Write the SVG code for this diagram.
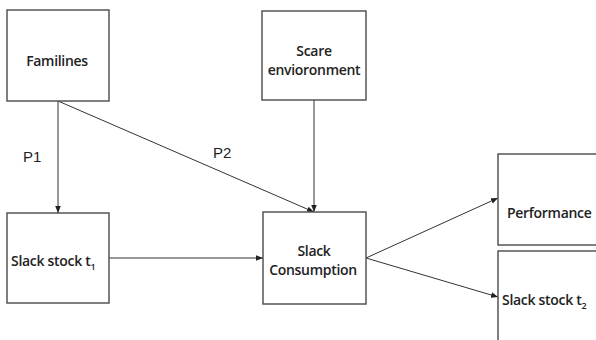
<svg xmlns="http://www.w3.org/2000/svg" width="596" height="340" viewBox="0 0 596 340">
<defs>
<marker id="arr" viewBox="0 0 10 10" refX="10" refY="5" markerWidth="7" markerHeight="7" orient="auto" markerUnits="userSpaceOnUse">
<path d="M0,1 L10,5 L0,9 z" fill="#222"/>
</marker>
</defs>
<style>
.box{fill:#fff;stroke:#555;stroke-width:1.5}
.lbl{font-family:"Open Sans","DejaVu Sans",sans-serif;font-size:14px;font-weight:600;letter-spacing:-0.3px;fill:#222;text-anchor:middle}
.lbl2{font-family:"Open Sans","DejaVu Sans",sans-serif;font-size:14px;font-weight:600;letter-spacing:-0.3px;fill:#222}
.sub{font-size:9px}
.edge{fill:none;stroke:#333;stroke-width:1}
.p{font-family:"Liberation Sans",Arial,sans-serif;font-size:15px;fill:#222}
</style>
<g id="connectors">
<line class="edge" x1="58" y1="101" x2="58" y2="213" marker-end="url(#arr)"/>
<line class="edge" x1="58" y1="101" x2="314" y2="212" marker-end="url(#arr)"/>
<line class="edge" x1="314" y1="100" x2="314" y2="212" marker-end="url(#arr)"/>
<line class="edge" x1="109" y1="258" x2="263" y2="258" marker-end="url(#arr)"/>
<line class="edge" x1="366" y1="258" x2="498" y2="198" marker-end="url(#arr)"/>
<line class="edge" x1="366" y1="258" x2="498" y2="297" marker-end="url(#arr)"/>
<text class="p" x="23" y="162">P1</text>
<text class="p" x="213" y="158">P2</text>
</g>
<g id="familines">
<rect class="box" x="7" y="10" width="102" height="91"/>
<text class="lbl" x="57" y="66">Familines</text>
</g>
<g id="scare">
<rect class="box" x="262" y="11" width="104" height="89"/>
<text class="lbl" x="314" y="56">Scare</text>
<text class="lbl" x="314" y="75">envioronment</text>
</g>
<g id="slack-stock-t1">
<rect class="box" x="7" y="213" width="102" height="90"/>
<text class="lbl2" x="11" y="266">Slack stock t<tspan class="sub" dy="4">1</tspan></text>
</g>
<g id="slack-consumption">
<rect class="box" x="263" y="212" width="103" height="92"/>
<text class="lbl" x="314" y="256">Slack</text>
<text class="lbl" x="313" y="275">Consumption</text>
</g>
<g id="performance">
<rect class="box" x="498" y="154" width="110" height="91"/>
<text class="lbl2" x="507" y="218">Performance</text>
</g>
<g id="slack-stock-t2">
<rect class="box" x="498" y="251" width="110" height="100"/>
<text class="lbl2" x="502" y="305">Slack stock t<tspan class="sub" dy="4">2</tspan></text>
</g>
</svg>
